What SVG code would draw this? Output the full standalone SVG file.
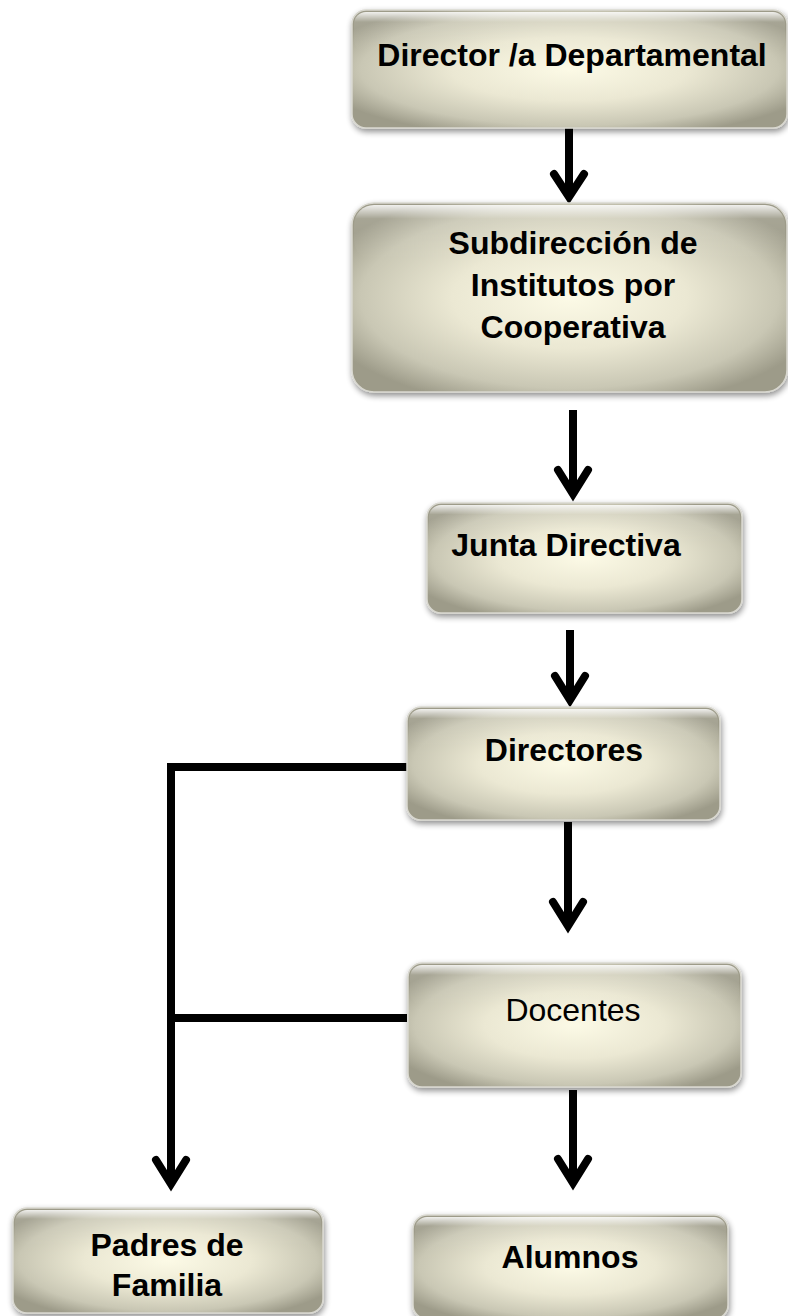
<svg xmlns="http://www.w3.org/2000/svg" width="788" height="1316" viewBox="0 0 788 1316">
<defs>
<radialGradient id="fillG" cx="0.5" cy="0.5" r="0.6">
<stop offset="0" stop-color="#fcfae6"/>
<stop offset="0.45" stop-color="#ebe8d3"/>
<stop offset="0.8" stop-color="#c9c7b4"/>
<stop offset="1" stop-color="#9d9b89"/>
</radialGradient>
<linearGradient id="gloss" x1="0" y1="0" x2="0" y2="1">
<stop offset="0" stop-color="#ffffff" stop-opacity="0.85"/>
<stop offset="0.25" stop-color="#ffffff" stop-opacity="0.1"/>
<stop offset="1" stop-color="#ffffff" stop-opacity="0"/>
</linearGradient>
<filter id="sh" x="-10%" y="-10%" width="120%" height="125%">
<feGaussianBlur in="SourceAlpha" stdDeviation="3"/>
<feOffset dx="1" dy="3" result="b"/>
<feComponentTransfer><feFuncA type="linear" slope="0.45"/></feComponentTransfer>
<feMerge><feMergeNode/><feMergeNode in="SourceGraphic"/></feMerge>
</filter>
</defs>
<style>
.box{fill:url(#fillG);stroke:#d9d8d0;stroke-width:1.5;filter:url(#sh)}
.gl{fill:url(#gloss)}
.t{font-family:"Liberation Sans",Arial,sans-serif;font-size:32px;font-weight:bold;fill:#000;text-anchor:middle}
.tr{font-weight:normal}
.c{fill:none;stroke:#000;stroke-width:8}
.h{fill:none;stroke:#000;stroke-width:8;stroke-linejoin:miter;stroke-linecap:round}
</style>
<rect width="788" height="1316" fill="#fff"/>
<g id="connectors">
<line class="c" x1="569" y1="128" x2="569" y2="196"/>
<polyline class="h" points="554,174 569,197 584,174"/>
<line class="c" x1="573" y1="410" x2="573" y2="494"/>
<polyline class="h" points="558,470 573,494 588,470"/>
<line class="c" x1="570" y1="630" x2="570" y2="700"/>
<polyline class="h" points="555,676 570,700 585,676"/>
<line class="c" x1="568" y1="822" x2="568" y2="926"/>
<polyline class="h" points="553,902 568,926 583,902"/>
<line class="c" x1="573" y1="1090" x2="573" y2="1183"/>
<polyline class="h" points="558,1159 573,1183 588,1159"/>
<polyline class="c" points="407,767 171,767 171,1184"/>
<polyline class="h" points="156,1160 171,1184 186,1160"/>
<line class="c" x1="407" y1="1018" x2="171" y2="1018"/>
</g>
<g id="n1">
<rect class="box" x="352" y="10" width="435" height="118" rx="14"/>
<rect class="gl" x="354" y="12" width="431" height="40" rx="12"/>
<text class="t" x="572" y="66">Director /a Departamental</text>
</g>
<g id="n2">
<rect class="box" x="352" y="203" width="435" height="189" rx="22"/>
<rect class="gl" x="354" y="205" width="431" height="55" rx="20"/>
<text class="t" x="573" y="254">Subdirección de</text>
<text class="t" x="573" y="296">Institutos por</text>
<text class="t" x="573" y="338">Cooperativa</text>
</g>
<g id="n3">
<rect class="box" x="427" y="503" width="315" height="110" rx="14"/>
<rect class="gl" x="429" y="505" width="311" height="38" rx="12"/>
<text class="t" x="566" y="556">Junta Directiva</text>
</g>
<g id="n4">
<rect class="box" x="407" y="707" width="313" height="113" rx="14"/>
<rect class="gl" x="409" y="709" width="309" height="38" rx="12"/>
<text class="t" x="564" y="761">Directores</text>
</g>
<g id="n5">
<rect class="box" x="408" y="963" width="333" height="124" rx="14"/>
<rect class="gl" x="410" y="965" width="329" height="40" rx="12"/>
<text class="t tr" x="573" y="1021">Docentes</text>
</g>
<g id="n6">
<rect class="box" x="13" y="1208" width="310" height="105" rx="14"/>
<rect class="gl" x="15" y="1210" width="306" height="36" rx="12"/>
<text class="t" x="167" y="1256">Padres de</text>
<text class="t" x="167" y="1296">Familia</text>
</g>
<g id="n7">
<rect class="box" x="413" y="1215" width="315" height="104" rx="14"/>
<rect class="gl" x="415" y="1217" width="311" height="36" rx="12"/>
<text class="t" x="570" y="1268">Alumnos</text>
</g>
</svg>
